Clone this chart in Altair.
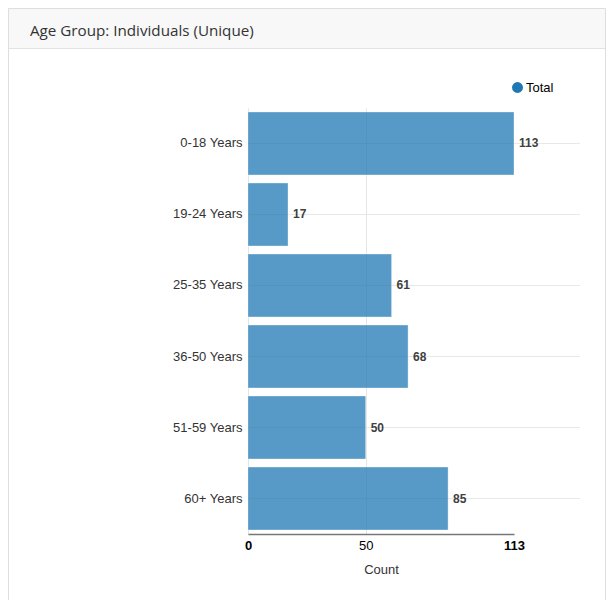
import altair as alt
import pandas as pd

categories = ["0-18 Years", "19-24 Years", "25-35 Years", "36-50 Years", "51-59 Years", "60+ Years"]
counts = [113, 17, 61, 68, 50, 85]
series_name = "Total"
x_ticks = [0, 50, 113]
panel_title = "Age Group: Individuals (Unique)"

df = pd.DataFrame({"age": categories, "count": counts, "series": [series_name] * len(categories)})

W, H = 266, 426
TOP = 100
PAD = {"left": 240, "top": TOP, "right": 92, "bottom": 66}
FONT = "Liberation Sans, Arial, sans-serif"

one = alt.Data(values=[{}])

header_bg = alt.Chart(one).mark_rect(fill="#f8f8f8").encode(
    x=alt.value(-240), x2=alt.value(W + 92), y=alt.value(-TOP), y2=alt.value(-59)
)
header_line = alt.Chart(one).mark_rule(color="#e3e3e3", strokeWidth=1).encode(
    x=alt.value(-240), x2=alt.value(W + 92), y=alt.value(-59.5)
)
panel = alt.Chart(one).mark_rect(fill=None, stroke="#dedede", strokeWidth=1).encode(
    x=alt.value(-239.5), x2=alt.value(W + 91.5), y=alt.value(-TOP + 0.5), y2=alt.value(H + 90)
)
header_text = alt.Chart(one).mark_text(
    text=panel_title, font="Open Sans", fontSize=15.2, color="#333333", align="left", baseline="alphabetic"
).encode(x=alt.value(-218), y=alt.value(-72))

yscale = alt.Scale(domain=categories, paddingInner=0.1127, paddingOuter=0.056)
xscale = alt.Scale(domain=[0, 113], nice=False, zero=True)

hgrid = alt.Chart(df).mark_rule(color="#e8e8e8", strokeWidth=1).encode(
    y=alt.Y("age:N", scale=yscale, sort=categories),
    x=alt.value(0), x2=alt.value(332),
)

bars = alt.Chart(df).mark_bar(fillOpacity=0.75, stroke="white", strokeOpacity=0.35, strokeWidth=1).encode(
    y=alt.Y("age:N", scale=yscale, sort=categories, title=None,
            axis=alt.Axis(domain=False, ticks=False, grid=False, labelFont=FONT, labelFontSize=13,
                          labelColor="#333333", labelPadding=6)),
    x=alt.X("count:Q", scale=xscale, title="Count",
            axis=alt.Axis(values=x_ticks, ticks=False, domainColor="#777777", domainWidth=1.5,
                          labelFont=FONT, labelFontSize=13, labelColor="#000000", labelPadding=5,
                          labelFlush=False,
                          labelFontWeight={"condition": {"test": "datum.value == 0 || datum.value == 113", "value": "bold"}, "value": "normal"},
                          grid=True,
                          gridColor={"condition": {"test": "datum.value == 113", "value": "transparent"}, "value": "#e5e5e5"},
                          titleFont=FONT, titleFontSize=13, titleFontWeight="normal", titleColor="#333333",
                          titlePadding=11)),
    color=alt.Color("series:N", scale=alt.Scale(domain=[series_name], range=["#1f77b4"]),
                    legend=alt.Legend(title=None, orient="none", legendX=263, legendY=-27,
                                      symbolType="circle", symbolSize=120, symbolOpacity=1,
                                      symbolStrokeWidth=0, labelFont=FONT, labelFontSize=13,
                                      labelColor="#000000", labelOffset=2, padding=0)),
)

labels = alt.Chart(df).mark_text(align="left", baseline="middle", dx=5, font=FONT, fontSize=12,
                                 fontWeight="bold", color="#404040").encode(
    y=alt.Y("age:N", scale=yscale, sort=categories),
    x=alt.X("count:Q", scale=xscale),
    text="count:Q",
)

chart = alt.layer(header_bg, header_line, panel, header_text, hgrid, bars, labels).properties(
    width=W, height=H, padding=PAD, autosize=alt.AutoSizeParams(type="none"), background="white"
).configure_view(stroke=None)

chart.save("out.html", embed_options={"renderer": "svg", "actions": False})
